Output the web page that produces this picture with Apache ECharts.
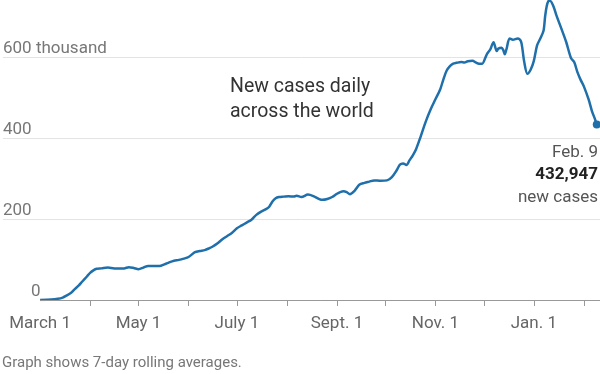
<!DOCTYPE html>
<html><head><meta charset="utf-8">
<script src="https://cdn.jsdelivr.net/npm/echarts@6/dist/echarts.min.js"></script>
<style>html,body{margin:0;padding:0;background:#fff}#c{width:600px;height:374px}</style>
</head><body><div id="c"></div>
<script>
// 7-day rolling average of new cases, in thousands
const dates = [
'2020-03-01','2020-03-08','2020-03-12','2020-03-15','2020-03-17','2020-03-20','2020-03-22','2020-03-25','2020-03-27','2020-03-30',
'2020-04-01','2020-04-03','2020-04-05','2020-04-08','2020-04-12','2020-04-16','2020-04-19','2020-04-22','2020-04-25','2020-04-28',
'2020-05-01','2020-05-04','2020-05-07','2020-05-11','2020-05-14','2020-05-17','2020-05-20','2020-05-23','2020-05-26','2020-05-29',
'2020-06-01','2020-06-05','2020-06-08','2020-06-11','2020-06-14','2020-06-16','2020-06-19','2020-06-22','2020-06-25','2020-06-28',
'2020-07-01','2020-07-04','2020-07-07','2020-07-10','2020-07-13','2020-07-16','2020-07-19','2020-07-21','2020-07-23','2020-07-25','2020-07-27','2020-07-30',
'2020-08-02','2020-08-05','2020-08-07','2020-08-10','2020-08-14','2020-08-18','2020-08-21','2020-08-23','2020-08-26','2020-08-29',
'2020-09-01','2020-09-03','2020-09-05','2020-09-07','2020-09-09','2020-09-12','2020-09-15','2020-09-18','2020-09-21','2020-09-24','2020-09-28',
'2020-10-02','2020-10-05','2020-10-08','2020-10-10','2020-10-12','2020-10-14','2020-10-16','2020-10-18','2020-10-20','2020-10-23','2020-10-26','2020-10-29',
'2020-11-01','2020-11-04','2020-11-06','2020-11-08','2020-11-10','2020-11-12','2020-11-14','2020-11-17','2020-11-19','2020-11-21','2020-11-24','2020-11-26','2020-11-28','2020-11-30',
'2020-12-02','2020-12-03','2020-12-05','2020-12-07','2020-12-09','2020-12-10','2020-12-12','2020-12-13','2020-12-14','2020-12-15','2020-12-17','2020-12-19','2020-12-22','2020-12-24','2020-12-25','2020-12-26','2020-12-28','2020-12-30',
'2021-01-01','2021-01-03','2021-01-05','2021-01-07','2021-01-08','2021-01-09','2021-01-10','2021-01-11','2021-01-13','2021-01-15','2021-01-18','2021-01-21','2021-01-24','2021-01-26','2021-01-28','2021-01-30',
'2021-02-01','2021-02-04','2021-02-06','2021-02-08','2021-02-09'
];
const cases = [
0,1,3,6,10,17,25,36,45,58,
67,73,77,78,80,78,78,78,81,79,
76,80,84,84,84,88,93,97,99,102,
106,118,121,123,128,132,140,150,158,166,
177,184,191,198,210,218,224,230,243,251,254,255,
256,255,257,254,260,255,249,247,249,254,
262,266,268,266,261,270,285,289,292,295,294,
295,303,320,334,337,333,345,357,372,405,440,470,
495,520,545,566,577,583,585,587,586,589,590,586,583,583,
598,607,618,636,614,620,622,617,606,618,645,642,645,638,617,588,558,568,
590,628,645,664,700,725,737,738,726,702,670,637,597,587,562,543,
527,494,466,445,432.947
];
const axisStart = '2020-02-07';
const axisEnd = '2021-02-11';
const xLabelDates = ['2020-03-01','2020-05-01','2020-07-01','2020-09-01','2020-11-01','2021-01-01'];
const xLabelTexts = ['March 1','May 1','July 1','Sept. 1','Nov. 1','Jan. 1'];
const yTickValues = [0, 200, 400, 600];
const yTickTexts = ['0', '200', '400', '600 thousand'];
const yMax = 740;

function dayList(a, b) {
  const out = [];
  let t = Date.parse(a + 'T00:00:00Z');
  const e = Date.parse(b + 'T00:00:00Z');
  while (t <= e) { out.push(new Date(t).toISOString().slice(0, 10)); t += 86400000; }
  return out;
}
const days = dayList(axisStart, axisEnd);
const seriesData = dates.map((d, i) => [d, cases[i]]);
const lastIdx = dates.length - 1;

const FONT = 'Roboto, "Noto Sans", sans-serif';
const chart = echarts.init(document.getElementById('c'), null, {renderer: 'canvas'});
chart.setOption({
  animation: false,
  backgroundColor: '#fff',
  grid: {left: 0, right: 0, top: 0, bottom: 74},
  xAxis: {
    type: 'category',
    data: days,
    boundaryGap: false,
    axisLine: {show: false},
    axisTick: {
      show: true, length: 6,
      lineStyle: {color: '#999', width: 1},
      interval: (i, v) => v.slice(8) === '01' && v >= '2020-04-01'
    },
    axisLabel: {
      interval: (i, v) => xLabelDates.indexOf(v) >= 0,
      formatter: v => xLabelTexts[xLabelDates.indexOf(v)] || '',
      color: '#666', fontSize: 17, fontFamily: FONT, margin: 15
    },
    splitLine: {show: false}
  },
  yAxis: {
    type: 'value', min: 0, max: yMax, interval: 200,
    axisLine: {show: false}, axisTick: {show: false},
    splitLine: {show: true, lineStyle: {color: ['rgba(0,0,0,0)', '#e3e3e3', '#e3e3e3', '#e3e3e3', 'rgba(0,0,0,0)'], width: 1}},
    axisLabel: {
      inside: true, margin: 0, verticalAlign: 'bottom',
      color: '#777', fontSize: 17, fontFamily: FONT,
      padding: [0, 0, 0, 0],
      formatter: v => {
        const k = yTickValues.indexOf(v);
        if (k < 0) return '';
        return v === 0 ? '{z|' + yTickTexts[k] + '}' : yTickTexts[k];
      },
      rich: {z: {padding: [0, 0, 0, 28], color: '#777', fontSize: 17, fontFamily: FONT}}
    }
  },
  series: [{
    type: 'line',
    data: seriesData,
    showSymbol: false,
    smooth: 0.3,
    lineStyle: {color: '#1f6fab', width: 2.5},
    itemStyle: {color: '#1f6fab'},
    z: 3,
    markPoint: {
      silent: true,
      symbol: 'circle', symbolSize: 8,
      itemStyle: {color: '#1f6fab'},
      label: {show: false},
      data: [{coord: [dates[lastIdx], cases[lastIdx]]}]
    },
    markLine: {
      silent: true, symbol: ['none', 'none'],
      label: {show: false},
      lineStyle: {color: '#999', width: 1, type: 'solid'},
      data: [[{coord: [dates[0], 0]}, {coord: [days[days.length - 1], 0]}]]
    }
  }],
  graphic: [
    {type: 'text', left: 230, top: 75, style: {text: 'New cases daily\nacross the world', fontSize: 19.5, lineHeight: 25, fill: '#333', fontFamily: FONT}},
    {type: 'text', right: 2, top: 144, style: {
      text: '{a|Feb. 9}\n{b|432,947}\n{a|new cases}', align: 'right', fontFamily: FONT,
      rich: {
        a: {fontSize: 17, lineHeight: 22.5, fill: '#555', fontFamily: FONT, align: 'right'},
        b: {fontSize: 17, lineHeight: 22.5, fill: '#222', fontWeight: 'bold', fontFamily: FONT, align: 'right'}
      }
    }},
    {type: 'text', left: 2, top: 356, style: {text: 'Graph shows 7-day rolling averages.', fontSize: 15, fill: '#777', fontFamily: FONT}}
  ]
});
</script>
</body></html>
